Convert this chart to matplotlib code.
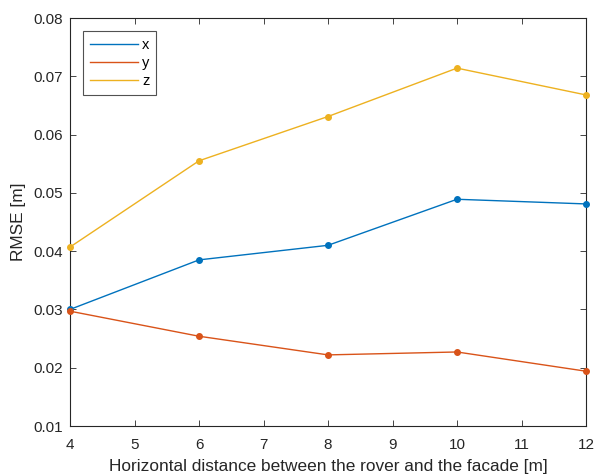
import matplotlib
matplotlib.use("Agg")
import matplotlib.pyplot as plt
from matplotlib.lines import Line2D

plt.rcParams['font.family'] = ['Liberation Sans', 'DejaVu Sans']

distance = [4, 6, 8, 10, 12]
rmse_x = [0.0300, 0.0385, 0.0410, 0.0489, 0.0481]
rmse_y = [0.0297, 0.0254, 0.0222, 0.0227, 0.0194]
rmse_z = [0.0407, 0.0555, 0.0631, 0.0714, 0.0668]
labels = ['x', 'y', 'z']
colors = ['#0072BD', '#D95319', '#EDB120']

fig = plt.figure(figsize=(5.97, 4.76), dpi=100)
# axes box: left 70px, right 586px, top 18px, bottom 426px
ax = fig.add_axes([70 / 597, 50 / 476, 516 / 597, 408 / 476])

for vals, c in zip([rmse_x, rmse_y, rmse_z], colors):
    ax.plot(distance, vals, '.-', color=c, lw=1, ms=8, clip_on=False, zorder=3)

ax.set_xlim(4, 12)
ax.set_ylim(0.01, 0.08)
ax.set_xticks(range(4, 13))
ax.set_yticks([0.01, 0.02, 0.03, 0.04, 0.05, 0.06, 0.07, 0.08])
ax.set_yticklabels(['0.01', '0.02', '0.03', '0.04', '0.05', '0.06', '0.07', '0.08'])
ax.tick_params(direction='in', top=True, right=True, labelsize=11, colors='#262626',
               length=4, width=0.6)
ax.tick_params(axis='x', pad=8.5)
ax.tick_params(axis='y', pad=5)
for s in ax.spines.values():
    s.set_color('#262626')
    s.set_linewidth(0.8)

ax.set_xlabel('Horizontal distance between the rover and the facade [m]', fontsize=12.4, color='#262626', labelpad=5)
ax.set_ylabel('RMSE [m]', fontsize=12.4, color='#262626', labelpad=5)

handles = [Line2D([], [], color=c, lw=1) for c in colors]
leg = ax.legend(handles, labels, loc='upper left', fontsize=10.5, frameon=True, fancybox=False,
                edgecolor='#262626', handlelength=3.3, borderaxespad=0.9,
                labelspacing=0.3, handletextpad=0.3, borderpad=0.45)
leg.get_frame().set_linewidth(0.8)

fig.savefig('out.png', dpi=100)
